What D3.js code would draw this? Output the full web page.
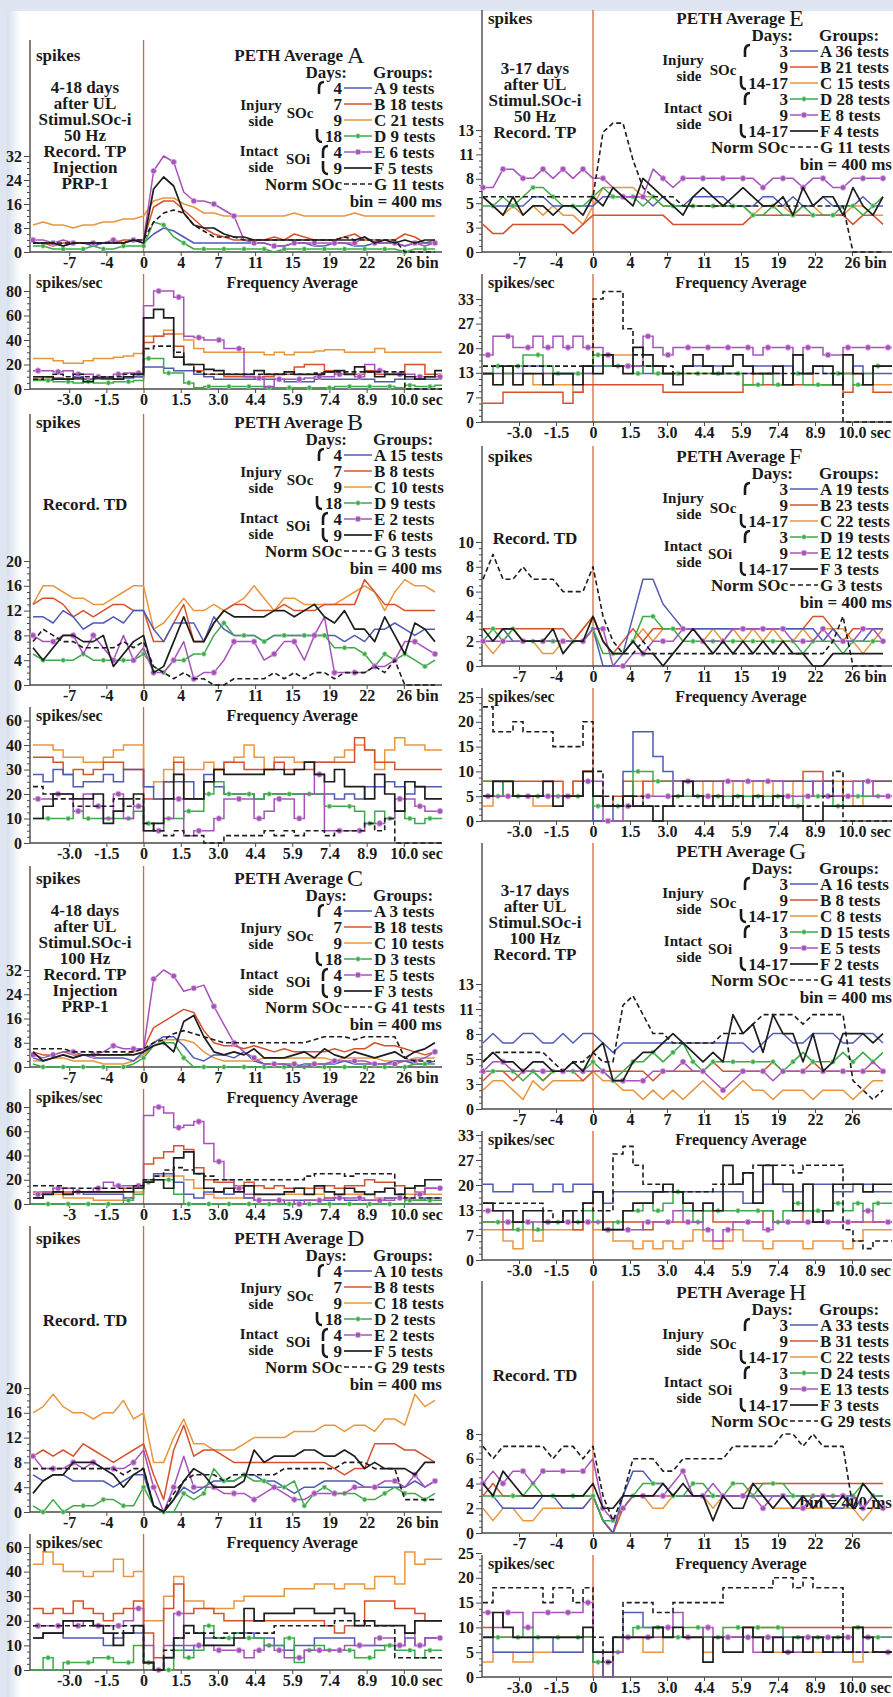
<!DOCTYPE html>
<html>
<head>
<meta charset="utf-8">
<script src="https://cdn.jsdelivr.net/npm/d3@7"></script>
<style>
  html, body { margin: 0; padding: 0; background: #dfe6f1; }
  svg { display: block; }
  text { font-family: "Liberation Serif", "Times New Roman", serif; font-weight: bold; fill: #1a1a1a; }
  .t17 { font-size: 17px; }
  .t16 { font-size: 16px; }
  .t15 { font-size: 15px; }
  .tick text, .unit { font-size: 16px; }
  .big { font-size: 24px; font-weight: normal; }
  .axisline { stroke: #4a4a4a; stroke-width: 1.4; }
  .zeroline { stroke: #d8663f; stroke-width: 1.3; }
</style>
</head>
<body>
<div id="chart"></div>
<script>
// ---- bins (400 ms each), -11 .. 29 ----
const binIdx = [-11,-10,-9,-8,-7,-6,-5,-4,-3,-2,-1,0,1,2,3,4,5,6,7,8,9,10,11,12,13,14,15,16,17,18,19,20,21,22,23,24,25,26,27,28,29];
const binTicks = [-7.4,-3.7,0,3.7,7.4,11.1,14.8,18.5,22.2,25.9];
const binLabels = ["-7","-4","0","4","7","11","15","19","22","26 bin"];
const binLabelsNoUnit = ["-7","-4","0","4","7","11","15","19","22","26"];
const secLabels = ["-3.0","-1.5","0","1.5","3.0","4.4","5.9","7.4","8.9","10.0 sec"];
const secLabelsC = ["-3","-1.5","0","1.5","3.0","4.4","5.9","7.4","8.9","10.0 sec"];

const groupLetters = ["A","B","C","D","E","F","G"];
const daysLeft = ["4","7","9","18","4","9"];
const daysRight = ["3","9","14-17","3","9","14-17"];

// y tick labels
const pethLabA = ["0","8","16","24","32"],      freqLabA = ["0","20","40","60","80"];
const pethLabB = ["0","4","8","12","16","20"],  freqLabB = ["0","10","20","30","40","60"];
const pethLabC = ["0","8","16","24","32"],      freqLabC = ["0","20","40","60","80"];
const pethLabD = ["0","4","8","12","16","20"],  freqLabD = ["0","10","20","30","40","60"];
const pethLabE = ["0","3","5","8","11","13"],   freqLabE = ["0","7","13","20","27","33"];
const pethLabF = ["0","2","4","6","8","10"],    freqLabF = ["0","5","10","15","20","25"];
const pethLabG = ["0","3","5","8","11","13"],   freqLabG = ["0","7","13","20","27","33"];
const pethLabH = ["0","2","4","6","8"],         freqLabH = ["0","5","10","15","20","25"];

// tests per group
const testsA = [9,18,21,9,6,5,11];
const testsB = [15,8,10,9,2,6,3];
const testsC = [3,18,10,3,5,3,41];
const testsD = [10,8,18,2,2,5,29];
const testsE = [36,21,15,28,8,4,11];
const testsF = [19,23,22,19,12,3,3];
const testsG = [16,8,8,15,5,2,41];
const testsH = [33,31,22,24,13,3,29];

// ---- PETH (spikes per bin), bins -11..29 ----
const pethA_A = [3,3,3,2,3,3,2,3,3,3,4,3, 6,8,7,5,3,3,3,3,3,3, 3,3,2,2,3,3,2,2,3,3, 2,2,3,3,3,2,3,3,3];
const pethA_B = [3,3,2,3,3,3,3,3,3,4,4,4, 15,17,17,14,11,8,6,5,4,4, 4,4,5,4,6,5,4,4,4,5, 6,4,4,4,4,6,5,3,4];
const pethA_C = [9,10,9,9,8,9,9,10,10,11,11,12, 17,18,18,16,15,13,13,12,12,12, 12,12,12,12,13,12,12,12,12,12, 13,12,12,12,12,12,12,12,12];
const pethA_D = [2,2,1,1,1,1,2,1,1,2,2,2, 10,9,5,3,1,1,1,1,1,1, 1,1,0,1,1,1,1,1,1,1, 1,1,1,1,1,0,1,1,1];
const pethA_E = [4,4,3,4,3,3,3,3,4,3,4,4, 27,32,30,20,17,17,16,14,12,4, 3,3,2,2,3,3,3,3,3,3, 3,5,3,3,3,2,3,2,3];
const pethA_F = [3,3,3,2,3,3,3,3,3,3,4,3, 21,25,22,13,9,8,8,6,5,5, 4,4,4,4,4,4,4,4,4,4, 4,5,3,4,3,4,3,4,4];
const pethA_G = [3,3,3,3,3,3,3,3,3,3,4,4, 10,13,14,13,9,7,5,5,5,4, 4,4,4,4,4,4,4,4,4,5, 4,4,4,4,4,0,0,0,0];

const pethB_A = [11,11,10,12,11,9,10,10,11,10,12,12, 9,7,10,10,10,7,11,9,8,8, 8,7,8,8,8,8,8,8,8,7, 8,7,9,9,10,9,8,9,9];
const pethB_B = [13,14,14,13,11,12,11,12,13,13,12,12, 7,7,10,13,7,7,10,12,13,13, 12,12,12,13,12,12,12,13,13,13, 13,17,15,13,13,12,12,12,12];
const pethB_C = [13,16,16,15,14,14,13,13,14,15,16,16, 9,10,12,14,12,12,13,12,13,14, 16,14,12,14,14,13,13,13,13,14, 15,16,15,12,15,17,16,16,15];
const pethB_D = [5,4,4,4,4,5,4,4,4,4,4,5, 3,2,4,4,5,5,8,10,8,8, 8,7,8,8,8,8,8,8,6,6, 6,5,3,5,4,5,4,3,4];
const pethB_E = [8,7,7,8,8,5,8,6,4,8,4,6, 2,2,4,7,1,2,2,4,7,7, 7,4,5,7,7,4,8,11,2,2, 2,2,3,3,4,7,7,6,5];
const pethB_F = [6,4,6,8,8,7,7,8,3,5,7,8, 2,3,7,11,7,7,10,12,11,11, 11,11,12,12,11,12,13,11,10,12, 9,9,7,11,8,5,10,9,7];
const pethB_G = [7,9,8,7,7,6,6,6,6,7,6,7, 3,2,1,2,1,1,0,0,1,1, 1,1,2,1,2,1,2,2,1,2, 2,2,3,2,4,0,0,0,0];

const pethC_A = [3,2,3,4,3,4,3,3,3,3,2,5, 8,10,10,7,3,2,4,4,3,5, 2,1,1,1,0,1,1,1,1,2, 1,1,1,1,2,2,1,1,2];
const pethC_B = [5,4,4,5,4,4,4,4,4,4,5,6, 13,15,17,19,18,12,8,7,7,6, 7,6,5,6,5,5,5,5,6,5, 6,6,8,7,7,6,5,4,5];
const pethC_C = [2,2,3,3,2,2,2,1,1,1,2,4, 7,9,9,9,8,5,3,2,2,2, 2,3,3,3,3,3,3,3,2,3, 3,3,3,2,2,2,3,3,3];
const pethC_D = [1,0,0,0,0,0,0,0,0,0,1,3, 7,8,8,3,0,0,0,0,0,0, 0,0,0,0,0,0,0,0,0,0, 0,0,0,0,0,0,1,1,1];
const pethC_E = [4,3,4,5,5,4,4,5,7,6,6,6, 29,32,30,25,26,27,20,14,8,5, 3,1,1,1,1,0,1,1,2,2, 2,2,1,1,1,2,2,3,5];
const pethC_F = [5,2,3,4,3,4,4,4,4,4,4,5, 7,8,5,15,17,10,5,4,5,4, 6,3,3,3,4,5,3,6,4,3, 5,4,3,4,5,3,5,6,8];
const pethC_G = [6,6,6,6,5,5,5,5,5,5,5,6, 8,9,11,12,11,10,9,8,8,8, 8,8,8,8,8,8,9,10,10,10, 9,10,10,10,10,3,2,2,2];

const pethD_A = [6,5,6,6,5,5,5,5,4,5,6,6, 1,0,2,4,3,4,5,5,5,6, 6,5,5,4,3,4,4,5,5,5, 5,4,4,4,4,4,5,4,5];
const pethD_B = [9,10,9,10,9,11,10,9,8,9,10,11, 6,2,10,14,9,10,10,9,8,8, 8,8,8,8,8,8,8,8,7,6, 7,7,11,11,11,10,10,9,8];
const pethD_C = [16,17,19,17,16,16,15,16,16,18,15,16, 8,8,12,15,11,11,10,10,10,11, 12,12,12,12,13,13,13,14,14,13, 14,14,13,15,15,14,19,17,18];
const pethD_D = [1,0,2,0,1,1,1,2,2,1,1,4, 1,0,0,3,2,3,7,5,5,6, 5,5,4,4,5,1,3,4,3,3, 3,2,2,3,4,3,3,2,3];
const pethD_E = [9,7,7,7,8,7,8,7,7,7,8,10, 4,0,4,9,4,4,4,3,3,3, 2,3,4,3,2,2,3,3,3,3, 4,4,4,5,5,4,6,4,5];
const pethD_F = [3,5,6,6,8,8,8,7,6,4,6,7, 1,0,2,5,7,6,4,4,4,5, 10,8,9,9,9,10,10,9,9,10, 9,7,8,7,7,7,6,8,8];
const pethD_G = [7,7,7,7,7,7,7,7,7,6,7,7, 1,0,3,5,6,6,6,5,6,6, 6,6,6,7,7,7,7,7,7,8, 8,8,7,7,7,2,2,2,2];

const pethE_A = [6,5,5,5,5,6,6,5,5,5,5,5, 6,6,6,6,6,5,6,5,5,6, 6,6,6,5,5,5,6,6,5,6, 5,5,6,5,5,5,6,5,5];
const pethE_B = [3,2,2,3,3,3,3,3,3,2,3,4, 4,4,4,4,4,4,4,3,3,3, 3,3,3,3,3,4,4,4,4,4, 4,4,4,4,4,3,4,4,3];
const pethE_C = [6,5,4,5,4,5,4,5,4,4,3,5, 7,7,7,7,6,6,5,5,5,5, 5,5,5,5,5,4,5,5,5,4, 5,5,4,4,4,5,5,4,4];
const pethE_D = [5,5,6,5,6,7,7,6,5,5,5,6, 7,6,6,6,5,6,5,5,5,5, 5,5,5,5,5,4,4,5,4,4, 5,4,4,4,5,5,4,5,6];
const pethE_E = [7,7,9,9,8,8,9,8,9,8,9,8, 8,7,6,6,6,9,8,7,8,8, 8,8,8,8,8,8,7,8,8,8, 7,8,8,7,7,8,8,8,8];
const pethE_F = [6,5,4,6,4,5,5,4,5,5,4,6, 5,7,6,5,8,7,6,5,4,6, 7,6,5,6,7,6,5,5,6,4, 7,5,6,6,4,7,5,4,6];
const pethE_G = [6,6,6,6,6,6,6,6,6,6,6,6, 13,14,14,10,7,6,6,6,5,5, 5,5,5,5,5,5,5,5,5,5, 5,5,5,5,5,0,0,0,0];

const pethF_A = [2,2,3,2,2,2,2,2,2,2,2,3, 0,0,1,4,7,7,5,4,3,3, 3,3,3,3,3,3,3,3,3,3, 3,3,2,3,2,2,2,3,3];
const pethF_B = [3,3,3,3,3,3,3,3,3,2,3,4, 2,1,2,3,2,3,3,3,3,3, 3,3,3,3,3,3,3,3,3,3, 3,4,4,3,2,3,3,3,3];
const pethF_C = [2,1,2,3,2,2,1,1,2,2,3,4, 2,1,1,2,3,2,3,3,3,3, 2,3,2,3,2,3,2,3,2,2, 3,2,3,3,3,2,1,2,3];
const pethF_D = [2,3,2,3,2,2,2,2,2,2,2,3, 1,1,1,2,4,4,3,3,2,2, 2,2,2,2,2,2,2,2,2,2, 1,2,2,2,1,2,2,2,2];
const pethF_E = [2,2,2,2,2,2,2,2,2,2,2,3, 3,0,0,1,1,2,2,2,3,3, 2,2,2,3,3,3,3,3,3,2, 2,2,3,2,2,2,3,3,2];
const pethF_F = [3,2,3,3,2,2,2,3,1,2,2,4, 2,1,1,2,1,1,0,1,2,3, 2,1,2,1,2,1,2,1,2,1, 1,0,0,1,1,1,1,1,1];
const pethF_G = [7,9,7,7,8,7,7,7,6,6,6,8, 4,2,1,1,2,1,1,1,1,1, 1,1,1,1,1,1,1,1,1,1, 1,1,1,2,4,0,0,0,0];

const pethG_A = [7,8,7,7,8,8,7,7,8,7,8,8, 7,6,7,7,7,7,7,7,7,7, 7,7,7,7,7,6,7,8,8,7, 7,8,8,8,7,7,8,8,7];
const pethG_B = [3,4,4,3,4,4,3,4,4,4,3,4, 4,4,4,4,4,3,4,4,4,4, 4,5,4,4,4,4,4,5,4,4, 4,5,4,4,4,4,4,4,4];
const pethG_C = [2,3,3,2,1,3,2,3,3,3,3,4, 3,3,2,2,1,2,1,2,1,2, 3,2,1,2,3,2,2,1,2,2, 2,1,2,2,2,1,2,3,3];
const pethG_D = [4,4,4,4,3,4,3,4,4,4,4,5, 4,3,4,5,5,6,5,6,7,5, 4,5,5,5,5,5,5,5,4,5, 6,5,5,5,6,5,6,5,6];
const pethG_E = [4,5,5,4,4,4,4,4,4,4,4,4, 4,3,3,3,3,4,4,4,5,4, 4,3,2,3,4,4,4,3,4,4, 4,4,4,4,4,4,4,5,4];
const pethG_F = [5,6,5,5,4,5,5,4,4,5,4,6, 7,3,3,5,6,6,7,8,7,6, 5,6,5,10,8,9,6,10,8,8, 5,8,4,5,8,8,8,7,8];
const pethG_G = [5,6,6,6,6,6,6,5,4,5,5,6, 5,5,11,12,10,8,8,7,7,7, 7,7,8,8,8,9,10,10,10,10, 9,10,10,10,10,3,2,1,2];

const pethH_A = [4,3,2,2,2,2,3,3,2,2,2,3, 1,0,3,5,5,4,4,3,3,3, 3,3,3,3,3,3,3,3,3,3, 3,3,3,2,2,3,2,3,3];
const pethH_B = [3,4,3,3,3,3,3,3,3,3,3,3, 1,0,2,3,3,3,3,3,3,3, 3,3,3,3,3,4,4,4,4,4, 4,4,4,4,4,4,4,4,4];
const pethH_C = [2,1,2,2,1,1,2,2,2,2,2,3, 1,0,2,3,3,2,2,3,3,3, 3,2,3,3,3,3,3,2,2,2, 2,2,2,2,2,2,1,2,2];
const pethH_D = [3,3,3,3,3,4,3,3,3,3,3,3, 1,1,2,3,4,4,4,3,3,4, 4,3,3,4,4,3,4,4,4,3, 3,3,3,3,3,3,4,3,3];
const pethH_E = [4,5,4,5,5,4,5,5,5,5,5,6, 2,1,2,3,3,3,3,4,5,3, 3,4,3,3,3,3,2,3,3,2, 2,3,3,3,3,3,2,3,2];
const pethH_F = [4,3,5,4,3,3,3,3,3,3,3,4, 2,2,3,3,3,3,4,3,4,3, 3,1,3,2,2,4,3,2,3,2, 3,2,3,2,3,2,4,3,2];
const pethH_G = [7,6,7,7,7,7,7,6,7,7,6,7, 3,1,3,6,6,6,5,5,6,6, 6,6,6,7,7,7,7,7,8,8, 7,8,7,7,7,2,2,2,2];

// ---- frequency (spikes/sec), one step per bin, steps starting at bins -11..29 ----
const freqA_A = [10,10,9,8,10,8,9,8,8,9,10, 18,18,17,15,15,12,10,8,8,8, 8,8,8,8,6,6,6,8,8,8, 8,8,8,6,6,8,8,8,8,8];
const freqA_B = [8,8,8,8,8,8,8,8,8,10,10, 38,43,45,35,20,15,12,12,10,10, 10,10,10,12,12,18,20,20,15,12, 12,12,15,12,12,12,20,20,12,12];
const freqA_C = [25,25,23,21,21,23,25,25,26,27,29, 43,43,48,45,40,33,30,30,30,30, 30,30,28,30,28,30,30,31,32,32, 30,30,30,33,30,30,30,30,30,30];
const freqA_D = [7,7,6,6,5,6,5,5,6,6,7, 25,25,13,13,5,1,2,2,2,2, 2,2,1,1,1,1,1,1,1,2, 2,2,2,2,2,1,3,2,2,3];
const freqA_E = [15,15,14,15,12,12,10,10,12,13,13, 68,80,80,75,43,42,40,40,33,33, 10,9,2,8,8,8,9,10,10,12, 12,10,20,15,12,12,12,10,10,10];
const freqA_F = [10,10,8,8,9,6,9,9,8,10,12, 58,65,58,26,20,20,16,15,12,12, 12,15,12,12,14,12,12,12,14,15, 12,18,14,10,12,12,10,8,10,15];
const freqA_G = [8,10,12,10,12,10,10,10,10,12,12, 33,35,35,30,20,14,12,12,12,12, 12,12,12,12,12,12,12,13,14,14, 14,14,14,14,14,14,0,0,0,0];

const freqB_A = [28,25,30,28,23,25,25,28,25,30,30, 23,18,25,25,25,18,28,23,20,20, 20,18,20,20,20,20,20,20,20,18, 20,18,23,23,25,23,20,23,23,23];
const freqB_B = [35,35,33,28,30,28,30,33,33,30,30, 18,18,25,33,18,18,25,30,33,33, 30,30,30,33,30,30,30,33,33,33, 33,43,38,33,33,30,30,30,30,30];
const freqB_C = [40,40,38,35,35,33,33,35,38,40,40, 23,25,30,35,30,30,33,30,33,35, 40,35,30,35,35,33,33,33,33,35, 38,40,38,30,38,43,40,40,38,38];
const freqB_D = [10,10,10,10,13,10,10,10,10,10,13, 8,5,10,10,13,13,20,25,20,20, 20,18,20,20,20,20,20,20,15,15, 15,13,8,13,10,13,10,8,10,10];
const freqB_E = [18,18,20,20,13,20,15,10,20,10,15, 5,5,10,18,3,5,5,10,18,18, 18,10,13,18,18,10,20,28,5,5, 5,5,8,8,10,18,18,15,13,13];
const freqB_F = [10,15,20,20,18,18,20,8,13,18,20, 5,8,18,28,18,18,25,30,28,28, 28,28,30,30,28,30,33,28,25,30, 23,23,18,28,20,13,25,23,18,18];
const freqB_G = [23,20,18,18,15,15,15,15,18,15,18, 8,5,3,5,3,3,0,0,3,3, 3,3,5,3,5,3,5,5,3,5, 5,5,8,5,10,0,0,0,0,0];

const freqC_A = [5,8,10,8,10,8,8,8,8,5,13, 20,25,25,18,8,5,10,10,8,13, 5,3,3,3,0,3,3,3,3,5, 3,3,3,3,5,5,3,3,5,5];
const freqC_B = [10,10,13,10,10,10,10,10,10,13,15, 33,38,43,48,45,30,20,18,18,15, 18,15,13,15,13,13,13,13,15,13, 15,15,20,18,18,15,13,10,13,13];
const freqC_C = [5,8,8,5,5,5,3,3,3,5,10, 18,23,23,23,20,13,8,5,5,5, 5,8,8,8,8,8,8,8,5,8, 8,8,8,5,5,5,8,8,8,8];
const freqC_D = [0,0,0,0,0,0,0,0,0,3,8, 18,20,20,8,0,0,0,0,0,0, 0,0,0,0,0,0,0,0,0,0, 0,0,0,0,0,0,3,3,3,3];
const freqC_E = [8,10,13,13,10,10,13,18,15,15,15, 73,80,75,63,65,68,50,35,20,13, 8,3,3,3,3,0,3,3,5,5, 5,5,3,3,3,5,5,8,13,13];
const freqC_F = [5,8,10,8,10,10,10,10,10,10,13, 18,20,13,38,43,25,13,10,13,10, 15,8,8,8,10,13,8,15,10,8, 13,10,8,10,13,8,13,15,20,20];
const freqC_G = [15,15,15,13,13,13,13,13,13,13,15, 20,23,28,30,28,25,23,20,20,20, 20,20,20,20,20,20,23,25,25,25, 23,25,25,25,25,8,5,5,5,5];

const freqD_A = [13,15,15,13,13,13,13,10,13,15,15, 3,0,5,10,8,10,13,13,13,15, 15,13,13,10,8,10,10,13,13,13, 13,10,10,10,10,10,13,10,13,13];
const freqD_B = [25,23,25,23,28,25,23,20,23,25,28, 15,5,25,35,23,25,25,23,20,20, 20,20,20,20,20,20,20,20,18,15, 18,18,28,28,28,25,25,23,20,20];
const freqD_C = [43,48,43,40,40,38,40,40,45,38,40, 20,20,30,38,28,28,25,25,25,28, 30,30,30,30,33,33,33,35,35,33, 35,35,33,38,38,35,48,43,45,45];
const freqD_D = [0,5,0,3,3,3,5,5,3,3,10, 3,0,0,8,5,8,18,13,13,15, 13,13,10,10,13,3,8,10,8,8, 8,5,5,8,10,8,8,5,8,8];
const freqD_E = [18,18,18,20,18,20,18,18,18,20,25, 10,0,10,23,10,10,10,8,8,8, 5,8,10,8,5,5,8,8,8,8, 10,10,10,13,13,10,15,10,13,13];
const freqD_F = [13,15,15,20,20,20,18,15,10,15,18, 3,0,5,13,18,15,10,10,10,13, 25,20,23,23,23,25,25,23,23,25, 23,18,20,18,18,18,15,20,20,20];
const freqD_G = [18,18,18,18,18,18,18,18,15,18,18, 3,0,8,13,15,15,15,13,15,15, 15,15,15,18,18,18,18,18,18,20, 20,20,18,18,18,5,5,5,5,5];

const freqE_A = [13,13,13,13,15,15,13,13,13,13,13, 15,15,15,15,15,13,15,13,13,15, 15,15,15,13,13,13,15,15,13,15, 13,13,15,13,13,13,15,13,13,13];
const freqE_B = [5,5,8,8,8,8,8,8,5,8,10, 10,10,10,10,10,10,10,8,8,8, 8,8,8,8,8,10,10,10,10,10, 10,10,10,10,10,8,10,10,8,8];
const freqE_C = [13,10,13,10,13,10,13,10,10,8,13, 18,18,18,18,15,15,13,13,13,13, 13,13,13,13,13,10,13,13,13,10, 13,13,10,10,10,13,13,10,10,10];
const freqE_D = [13,15,13,15,18,18,15,13,13,13,15, 18,15,15,15,13,15,13,13,13,13, 13,13,13,13,13,10,10,13,10,10, 13,10,10,10,13,13,10,13,15,15];
const freqE_E = [18,23,23,20,20,23,20,23,20,23,20, 20,18,15,15,15,23,20,18,20,20, 20,20,20,20,20,20,18,20,20,20, 18,20,20,18,18,20,20,20,20,20];
const freqE_F = [13,10,15,10,13,13,10,13,13,10,15, 13,18,15,13,20,18,15,13,10,15, 18,15,13,15,18,15,13,13,15,10, 18,13,15,15,10,18,13,10,15,15];
const freqE_G = [15,15,15,15,15,15,15,15,15,15,15, 33,35,35,25,18,15,15,15,13,13, 13,13,13,13,13,13,13,13,13,13, 13,13,13,13,13,0,0,0,0,0];

const freqF_A = [5,8,5,5,5,5,5,5,5,5,8, 0,0,3,10,18,18,13,10,8,8, 8,8,8,8,8,8,8,8,8,8, 8,8,5,8,5,5,5,8,8,8];
const freqF_B = [8,8,8,8,8,8,8,8,5,8,10, 5,3,5,8,5,8,8,8,8,8, 8,8,8,8,8,8,8,8,8,8, 8,10,10,8,5,8,8,8,8,8];
const freqF_C = [3,5,8,5,5,3,3,5,5,8,10, 5,3,3,5,8,5,8,8,8,8, 5,8,5,8,5,8,5,8,5,5, 8,5,8,8,8,5,3,5,8,8];
const freqF_D = [8,5,8,5,5,5,5,5,5,5,8, 3,3,3,5,10,10,8,8,5,5, 5,5,5,5,5,5,5,5,5,5, 3,5,5,5,3,5,5,5,5,5];
const freqF_E = [5,5,5,5,5,5,5,5,5,5,8, 8,0,0,3,3,5,5,5,8,8, 5,5,5,8,8,8,8,8,8,5, 5,5,8,5,5,5,8,8,5,5];
const freqF_F = [5,8,8,5,5,5,8,3,5,5,10, 5,3,3,5,3,3,0,3,5,8, 5,3,5,3,5,3,5,3,5,3, 3,0,0,3,3,3,3,3,3,3];
const freqF_G = [23,18,18,20,18,18,18,15,15,15,20, 10,5,3,3,5,3,3,3,3,3, 3,3,3,3,3,3,3,3,3,3, 3,3,3,5,10,0,0,0,0,0];

const freqG_A = [20,18,18,20,20,18,18,20,18,20,20, 18,15,18,18,18,18,18,18,18,18, 18,18,18,18,18,15,18,20,20,18, 18,20,20,20,18,18,20,20,18,18];
const freqG_B = [10,10,8,10,10,8,10,10,10,8,10, 10,10,10,10,10,8,10,10,10,10, 10,13,10,10,10,10,10,13,10,10, 10,13,10,10,10,10,10,10,10,10];
const freqG_C = [8,8,5,3,8,5,8,8,8,8,10, 8,8,5,5,3,5,3,5,3,5, 8,5,3,5,8,5,5,3,5,5, 5,3,5,5,5,3,5,8,8,8];
const freqG_D = [10,10,10,8,10,8,10,10,10,10,13, 10,8,10,13,13,15,13,15,18,13, 10,13,13,13,13,13,13,13,10,13, 15,13,13,13,15,13,15,13,15,15];
const freqG_E = [13,13,10,10,10,10,10,10,10,10,10, 10,8,8,8,8,10,10,10,13,10, 10,8,5,8,10,10,10,8,10,10, 10,10,10,10,10,10,10,13,10,10];
const freqG_F = [15,13,13,10,13,13,10,10,13,10,15, 18,8,8,13,15,15,18,20,18,15, 13,15,13,25,20,23,15,25,20,20, 13,20,10,13,20,20,20,18,20,20];
const freqG_G = [15,15,15,15,15,15,13,10,13,13,15, 13,13,28,30,25,20,20,18,18,18, 18,18,20,20,20,23,25,25,25,25, 23,25,25,25,25,8,5,3,5,5];

const freqH_A = [8,5,5,5,5,8,8,5,5,5,8, 3,0,8,13,13,10,10,8,8,8, 8,8,8,8,8,8,8,8,8,8, 8,8,8,5,5,8,5,8,8,8];
const freqH_B = [10,8,8,8,8,8,8,8,8,8,8, 3,0,5,8,8,8,8,8,8,8, 8,8,8,8,8,10,10,10,10,10, 10,10,10,10,10,10,10,10,10,10];
const freqH_C = [3,5,5,3,3,5,5,5,5,5,8, 3,0,5,8,8,5,5,8,8,8, 8,5,8,8,8,8,8,5,5,5, 5,5,5,5,5,5,3,5,5,5];
const freqH_D = [8,8,8,8,10,8,8,8,8,8,8, 3,3,5,8,10,10,10,8,8,10, 10,8,8,10,10,8,10,10,10,8, 8,8,8,8,8,8,10,8,8,8];
const freqH_E = [13,10,13,13,10,13,13,13,13,13,15, 5,3,5,8,8,8,8,10,13,8, 8,10,8,8,8,8,5,8,8,5, 5,8,8,8,8,8,5,8,5,5];
const freqH_F = [8,13,10,8,8,8,8,8,8,8,10, 5,5,8,8,8,8,10,8,10,8, 8,3,8,5,5,10,8,5,8,5, 8,5,8,5,8,5,10,8,5,5];
const freqH_G = [15,18,18,18,18,18,15,18,18,15,18, 8,3,8,15,15,15,13,13,15,15, 15,15,15,18,18,18,18,18,20,20, 18,20,18,18,18,5,5,5,5,5];

// ---- description texts ----
const descA = ["4-18 days","after UL","Stimul.SOc-i","50 Hz","Record. TP","Injection","PRP-1"];
const descC = ["4-18 days","after UL","Stimul.SOc-i","100 Hz","Record. TP","Injection","PRP-1"];
const descE = ["3-17 days","after UL","Stimul.SOc-i","50 Hz","Record. TP"];
const descG = ["3-17 days","after UL","Stimul.SOc-i","100 Hz","Record. TP"];
const descTD = ["Record. TD"];

// ---- layout ----
const W = 893, H = 1697;
// side labels: [x, row, dy]
const cols = {
  L: { x0: 30, x1: 442, dom: [-11.3, 29.7], daysX: 342, titleX: 343, descX: 85, days: daysLeft,
       braces: [[0,1,319],[3,0,317],[4,1,323],[5,0,323]],
       side: { inj:[261,1,1], side1:[261,1,17], soc:[300,1,9], intact:[259,4,-1], side2:[261,4,15], soi:[298,4,7] } },
  R: { x0: 482, x1: 892, dom: [-11.1, 29.9], daysX: 788, titleX: 785, descX: 535, days: daysRight,
       braces: [[0,1,745],[2,0,741],[3,1,745],[5,0,741]],
       side: { inj:[683,0,9], side1:[689,0,25], soc:[723,1,3], intact:[683,3,9], side2:[689,3,25], soi:[720,4,1] } }
};

const panels = [
  { key:"A", col:"L", title:55,   pTop:40,   pZero:252,  pStep:8,    pPx:24,    fZero:389,  fStep:20,  fPx:24.5,
    peth:[pethA_A,pethA_B,pethA_C,pethA_D,pethA_E,pethA_F,pethA_G], freq:[freqA_A,freqA_B,freqA_C,freqA_D,freqA_E,freqA_F,freqA_G],
    pLab:pethLabA, fLab:freqLabA, xLab:binLabels, sLab:secLabels, tests:testsA, desc:descA, descY:87, spikes:true },
  { key:"B", col:"L", title:422,  pTop:414,  pZero:685,  pStep:4,    pPx:24.8,  fZero:843,  fStep:10,  fPx:24.5,
    peth:[pethB_A,pethB_B,pethB_C,pethB_D,pethB_E,pethB_F,pethB_G], freq:[freqB_A,freqB_B,freqB_C,freqB_D,freqB_E,freqB_F,freqB_G],
    pLab:pethLabB, fLab:freqLabB, xLab:binLabels, sLab:secLabels, tests:testsB, desc:descTD, descY:504, spikes:true },
  { key:"C", col:"L", title:878,  pTop:866,  pZero:1067, pStep:8,    pPx:24.25, fZero:1204, fStep:20,  fPx:24.25,
    peth:[pethC_A,pethC_B,pethC_C,pethC_D,pethC_E,pethC_F,pethC_G], freq:[freqC_A,freqC_B,freqC_C,freqC_D,freqC_E,freqC_F,freqC_G],
    pLab:pethLabC, fLab:freqLabC, xLab:binLabels, sLab:secLabelsC, tests:testsC, desc:descC, descY:910, spikes:true },
  { key:"D", col:"L", title:1238, pTop:1226, pZero:1512, pStep:4,    pPx:24.8,  fZero:1670, fStep:10,  fPx:24.6,
    peth:[pethD_A,pethD_B,pethD_C,pethD_D,pethD_E,pethD_F,pethD_G], freq:[freqD_A,freqD_B,freqD_C,freqD_D,freqD_E,freqD_F,freqD_G],
    pLab:pethLabD, fLab:freqLabD, xLab:binLabels, sLab:secLabels, tests:testsD, desc:descTD, descY:1320, spikes:true },
  { key:"E", col:"R", title:18,   pTop:10,   pZero:252,  pStep:2.65, pPx:24.4,  fZero:422,  fStep:6.6, fPx:24.6,
    peth:[pethE_A,pethE_B,pethE_C,pethE_D,pethE_E,pethE_F,pethE_G], freq:[freqE_A,freqE_B,freqE_C,freqE_D,freqE_E,freqE_F,freqE_G],
    pLab:pethLabE, fLab:freqLabE, xLab:binLabels, sLab:secLabels, tests:testsE, desc:descE, descY:68, spikes:true },
  { key:"F", col:"R", title:456,  pTop:446,  pZero:666,  pStep:2,    pPx:24.8,  fZero:821,  fStep:5,   fPx:24.8,
    peth:[pethF_A,pethF_B,pethF_C,pethF_D,pethF_E,pethF_F,pethF_G], freq:[freqF_A,freqF_B,freqF_C,freqF_D,freqF_E,freqF_F,freqF_G],
    pLab:pethLabF, fLab:freqLabF, xLab:binLabels, sLab:secLabels, tests:testsF, desc:descTD, descY:538, spikes:true },
  { key:"G", col:"R", title:851,  pTop:843,  pZero:1109, pStep:2.65, pPx:25,    fZero:1260, fStep:6.6, fPx:25,
    peth:[pethG_A,pethG_B,pethG_C,pethG_D,pethG_E,pethG_F,pethG_G], freq:[freqG_A,freqG_B,freqG_C,freqG_D,freqG_E,freqG_F,freqG_G],
    pLab:pethLabG, fLab:freqLabG, xLab:binLabelsNoUnit, sLab:secLabels, tests:testsG, desc:descG, descY:890, spikes:false },
  { key:"H", col:"R", title:1292, pTop:1281, pZero:1533, pStep:2,    pPx:24.75, fZero:1677, fStep:5,   fPx:24.8,
    peth:[pethH_A,pethH_B,pethH_C,pethH_D,pethH_E,pethH_F,pethH_G], freq:[freqH_A,freqH_B,freqH_C,freqH_D,freqH_E,freqH_F,freqH_G],
    pLab:pethLabH, fLab:freqLabH, xLab:binLabelsNoUnit, sLab:secLabels, tests:testsH, desc:descTD, descY:1375, spikes:false, binY:1502 }
];

// series styles: A blue, B red, C orange, D green (dots), E purple (dots), F black, G black dashed
const colors = ["#4f5bb5","#d4532e","#e8963f","#3daa4a","#a653b9","#1d1d1d","#1d1d1d"];
const widths = [1.5,1.5,1.5,1.5,1.5,1.7,1.6];
const drawOrder = [2,1,0,3,4,6,5];

const svg = d3.select("#chart").append("svg").attr("width", W).attr("height", H);
const grad = svg.append("defs").append("linearGradient").attr("id","edge");
grad.append("stop").attr("offset","0%").attr("stop-color","#d8e1ef");
grad.append("stop").attr("offset","100%").attr("stop-color","#ffffff");
svg.append("rect").attr("width", W).attr("height", H).attr("fill", "#dfe6f1");
svg.append("rect").attr("x", 7).attr("y", 11).attr("width", W - 7).attr("height", H - 11).attr("fill", "#fff");
svg.append("rect").attr("x", 7).attr("y", 11).attr("width", 14).attr("height", H - 11).attr("fill", "url(#edge)");

function txt(g, x, y, s, anchor, cls) {
  return g.append("text").attr("class", cls || "t17").attr("x", x).attr("y", y)
    .attr("text-anchor", anchor || "start").text(s);
}

function yAxis(g, y, step, labels, x0) {
  const major = labels.map((_, i) => i * step);
  const minor = [];
  for (let k = 1; k < (labels.length - 1) * 4; k++) if (k % 4) minor.push(k * step / 4);
  // minor ticks: marks only, no (empty) label elements
  g.append("g").attr("transform", `translate(${x0},0)`).style("color", "#4a4a4a")
    .call(d3.axisLeft(y).tickValues(minor).tickSize(3).tickFormat(""))
    .call(a => a.select(".domain").remove())
    .call(a => a.selectAll("text").remove());
  g.append("g").attr("transform", `translate(${x0},0)`).style("color", "#4a4a4a")
    .call(d3.axisLeft(y).tickValues(major).tickSize(6).tickPadding(2).tickFormat((d, i) => labels[i]))
    .call(a => a.select(".domain").remove());
}

function xAxis(g, x, y0, labels) {
  const ax = g.append("g").attr("transform", `translate(0,${y0})`).style("color", "#4a4a4a")
    .call(d3.axisBottom(x).tickValues(binTicks).tickSize(4).tickPadding(1).tickFormat((d, i) => labels[i]));
  ax.select(".domain").remove();
  // the last label carries a unit: keep the number on the tick, put the unit after it
  ax.selectAll(".tick text").each(function (d, i) {
    const s = labels[i], sp = s.indexOf(" ");
    if (sp > 0) {
      const t = d3.select(this).text(s.slice(0, sp));
      const w = this.getComputedTextLength();
      d3.select(this.parentNode).append("text").attr("class", "unit")
        .attr("text-anchor", "start")
        .attr("x", w / 2 + 4).attr("y", t.attr("y")).attr("dy", t.attr("dy"))
        .text(s.slice(sp + 1));
    }
  });
}

function marker(g, k, cx, cy) {
  g.append("circle").attr("cx", cx).attr("cy", cy).attr("r", k === 3 ? 2.3 : 2.8)
    .attr("fill", colors[k]).attr("stroke", k === 3 ? "#9fdca5" : "#d9b3e3").attr("stroke-width", 0.8);
}

function drawPanel(p) {
  const c = cols[p.col];
  const x = d3.scaleLinear().domain(c.dom).range([c.x0, c.x1]);
  const yP = d3.scaleLinear().domain([0, p.pStep]).range([p.pZero, p.pZero - p.pPx]);
  const yF = d3.scaleLinear().domain([0, p.fStep]).range([p.fZero, p.fZero - p.fPx]);
  const fTop = p.pZero + 22;
  const g = svg.append("g");

  // texts in upper area
  if (p.spikes) txt(g, c.x0 + 6, p.title + 5.5, "spikes");
  txt(g, c.titleX, p.title + 5.5, "PETH Average", "end");
  txt(g, c.titleX + 4, p.title + 8, p.key, "start", "big");
  p.desc.forEach((s, i) => txt(g, c.descX, p.descY + 5.5 + i * 16, s, "middle"));

  // legend
  const rowY = i => p.title + 33 + 16 * i;
  txt(g, c.daysX + 5, p.title + 17 + 5.5, "Days:", "end");
  txt(g, c.daysX + 31, p.title + 17 + 5.5, "Groups:");
  c.days.forEach((s, i) => txt(g, c.daysX, rowY(i) + 5.5, s, "end"));
  txt(g, c.daysX, rowY(6) + 5.5, "Norm SOc", "end");
  c.braces.forEach(([row, top, bx]) => {
    const y = rowY(row);
    const d = top ? `M${bx + 5},${y - 6} Q${bx},${y - 6} ${bx},${y} L${bx},${y + 6}`
                  : `M${bx},${y - 7} L${bx},${y} Q${bx},${y + 6} ${bx + 5},${y + 6}`;
    g.append("path").attr("d", d).attr("fill", "none").attr("stroke", "#1a1a1a").attr("stroke-width", 2.6);
  });
  const sd = c.side;
  const sideTxt = (pos, s) => txt(g, pos[0], rowY(pos[1]) + pos[2] + 5, s, "middle", "t15");
  sideTxt(sd.inj, "Injury");
  sideTxt(sd.side1, "side");
  sideTxt(sd.soc, "SOc");
  sideTxt(sd.intact, "Intact");
  sideTxt(sd.side2, "side");
  sideTxt(sd.soi, "SOi");
  groupLetters.forEach((L, k) => {
    const y = rowY(k);
    g.append("line").attr("x1", c.daysX + 2).attr("x2", c.daysX + 30).attr("y1", y).attr("y2", y)
      .attr("stroke", colors[k]).attr("stroke-width", widths[k])
      .attr("stroke-dasharray", k === 6 ? "5,3" : null);
    if (k === 3 || k === 4) marker(g, k, c.daysX + 16, y);
    txt(g, c.daysX + 32, y + 5.5, `${L} ${p.tests[k]} tests`);
  });
  txt(g, c.x1, (p.binY || rowY(6) + 17) + 5.5, "bin = 400 ms", "end");

  // frame: axis lines, zero lines, red stimulus line
  [[p.pTop, p.pZero], [fTop, p.fZero]].forEach(([t, b]) => {
    g.append("line").attr("class", "zeroline").attr("x1", x(0)).attr("x2", x(0)).attr("y1", t).attr("y2", b);
    g.append("line").attr("class", "axisline").attr("x1", c.x0).attr("x2", c.x0).attr("y1", t).attr("y2", b);
    g.append("line").attr("class", "axisline").attr("x1", c.x0).attr("x2", c.x1).attr("y1", b).attr("y2", b);
  });
  yAxis(g, yP, p.pStep, p.pLab, c.x0);
  yAxis(g, yF, p.fStep, p.fLab, c.x0);
  xAxis(g, x, p.pZero, p.xLab);
  xAxis(g, x, p.fZero, p.sLab);
  txt(g, c.x0 + 6, p.pZero + 35.5, "spikes/sec", "start", "t16");
  txt(g, x(14.8), p.pZero + 35.5, "Frequency Average", "middle", "t16");

  // PETH lines
  const lineP = d3.line().x(d => x(d[0])).y(d => yP(d[1]));
  drawOrder.forEach(k => {
    const pts = p.peth[k].map((v, j) => [binIdx[j], v]);
    g.append("path").attr("d", lineP(pts)).attr("fill", "none")
      .attr("stroke", colors[k]).attr("stroke-width", widths[k]).attr("stroke-linejoin", "round")
      .attr("stroke-dasharray", k === 6 ? "5,3" : null);
    if (k === 3 || k === 4) pts.forEach((d, j) => { if (j % 2 === (k === 3 ? 1 : 0)) marker(g, k, x(d[0]), yP(d[1])); });
  });

  // frequency step lines
  const lineF = d3.line().curve(d3.curveStepAfter).x(d => x(d[0])).y(d => yF(d[1]));
  drawOrder.forEach(k => {
    const vals = p.freq[k];
    const pts = vals.map((v, j) => [Math.max(binIdx[j], c.dom[0]), v]);
    pts.push([c.dom[1], vals[vals.length - 1]]);
    g.append("path").attr("d", lineF(pts)).attr("fill", "none")
      .attr("stroke", colors[k]).attr("stroke-width", widths[k])
      .attr("stroke-dasharray", k === 6 ? "5,3" : null);
    if (k === 3 || k === 4) vals.forEach((v, j) => {
      if (j % 2 === (k === 3 ? 1 : 0)) marker(g, k, x(binIdx[j] + 0.5), yF(v));
    });
  });
}

panels.forEach(drawPanel);
</script>
</body>
</html>
